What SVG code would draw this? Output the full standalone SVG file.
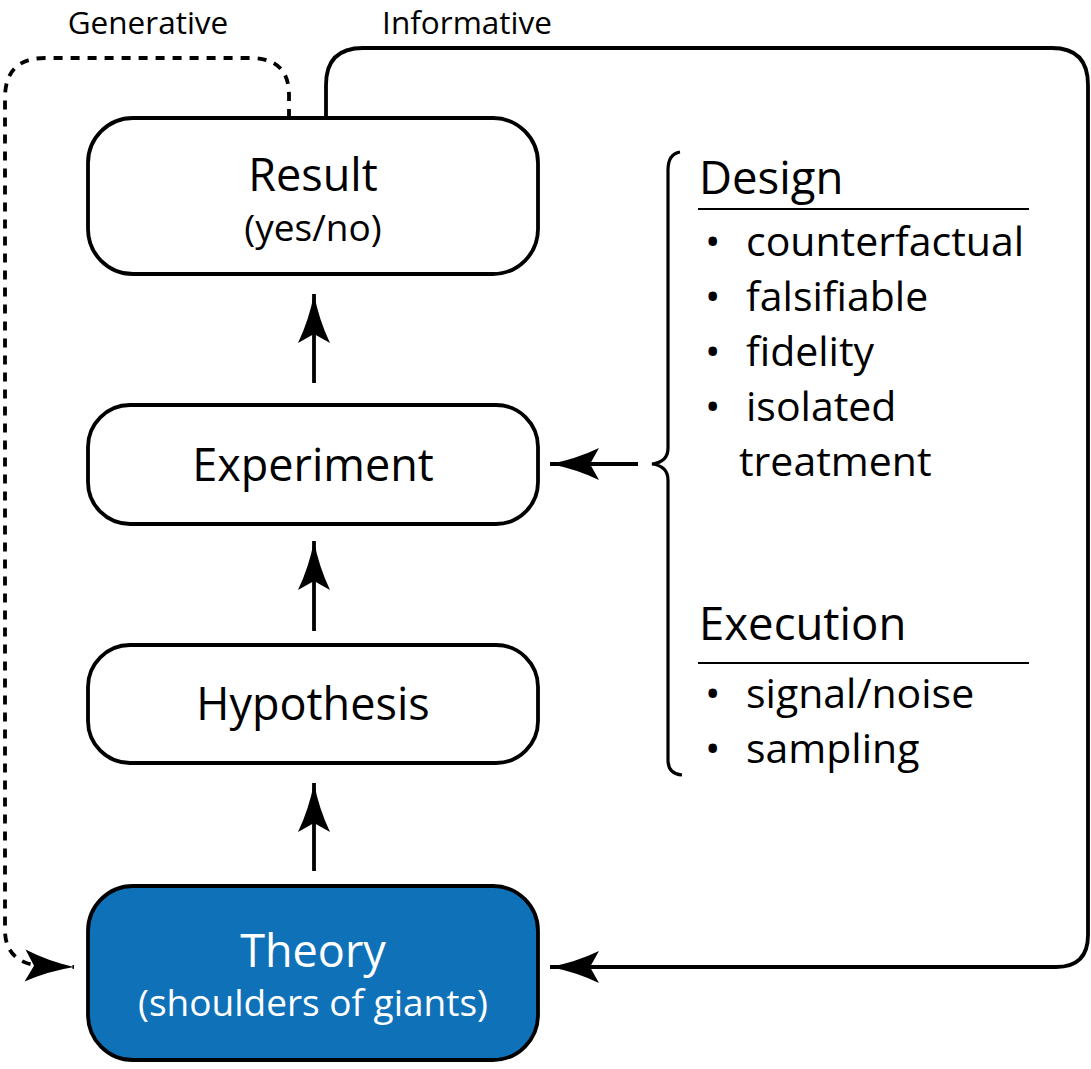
<svg xmlns="http://www.w3.org/2000/svg" width="1091" height="1069" viewBox="0 0 1091 1069">
<style>
.box{fill:#fff;stroke:#000;stroke-width:3.8}
.theory{fill:#0f72b9;stroke:#000;stroke-width:3.8}
.t{font-family:"Open Sans","Noto Sans",sans-serif;fill:#000}
.big{font-size:45px;text-anchor:middle}
.sub{font-size:37px;text-anchor:middle}
.lbl{font-size:31.5px;text-anchor:middle}
.hd{font-size:45.5px}
.li{font-size:41px}
.w{fill:#fff}
.ln{fill:none;stroke:#000;stroke-width:3.8}
.dash{fill:none;stroke:#000;stroke-width:3.8;stroke-dasharray:9,8}
.rule{stroke:#000;stroke-width:2}
</style>
<defs>
<marker id="ah" markerUnits="userSpaceOnUse" markerWidth="60" markerHeight="40" viewBox="-52 -20 56 40" refX="0" refY="0" orient="auto" overflow="visible">
<path d="M0,0 Q-26,-5 -49,-16 L-40,0 L-49,16 Q-26,5 0,0 Z" fill="#000"/>
</marker>
</defs>
<g id="connectors">
<path class="dash" d="M289,118 V95 Q289,58 250,58 H45 Q5,58 5,98 V930 Q5,962 40,966 L74,967" marker-end="url(#ah)"/>
<path class="ln" d="M326,118 V85 Q326,48 363,48 H1052 Q1088,48 1088,85 V935 Q1088,967 1056,967 H550" marker-end="url(#ah)"/>
<path class="ln" d="M314,383 V294" marker-end="url(#ah)"/>
<path class="ln" d="M314,631 V541" marker-end="url(#ah)"/>
<path class="ln" d="M314,871 V783" marker-end="url(#ah)"/>
<path class="ln" d="M638,464 H550" marker-end="url(#ah)"/>
<path class="ln" d="M680,152 Q668,154 668,170 V448 Q668,462 652,464 Q668,466 668,480 V760 Q668,774 682,775" style="stroke-width:3.2"/>
</g>
<g id="labels">
<text class="t lbl" x="148" y="34">Generative</text>
<text class="t lbl" x="467" y="34">Informative</text>
</g>
<g id="result">
<rect class="box" x="88" y="118" width="450" height="156" rx="45"/>
<text class="t big" x="313" y="191">Result</text>
<text class="t sub" x="313" y="241">(yes/no)</text>
</g>
<g id="experiment">
<rect class="box" x="88" y="405" width="450" height="119" rx="42"/>
<text class="t big" x="313" y="481">Experiment</text>
</g>
<g id="hypothesis">
<rect class="box" x="88" y="645" width="450" height="118" rx="42"/>
<text class="t big" x="313" y="720">Hypothesis</text>
</g>
<g id="theory">
<rect class="theory" x="88" y="886" width="450" height="174" rx="45"/>
<text class="t big w" x="313" y="967">Theory</text>
<text class="t sub w" x="313" y="1016">(shoulders of giants)</text>
</g>
<g id="design">
<text class="t hd" x="699" y="194">Design</text>
<line class="rule" x1="698" y1="209" x2="1029" y2="209"/>
<text class="t li" x="705" y="256">•</text>
<text class="t li" x="746" y="256">counterfactual</text>
<text class="t li" x="705" y="311">•</text>
<text class="t li" x="746" y="311">falsifiable</text>
<text class="t li" x="705" y="366">•</text>
<text class="t li" x="746" y="366">fidelity</text>
<text class="t li" x="705" y="421">•</text>
<text class="t li" x="746" y="421">isolated</text>
<text class="t li" x="739" y="476">treatment</text>
</g>
<g id="execution">
<text class="t hd" x="699" y="640">Execution</text>
<line class="rule" x1="698" y1="663" x2="1029" y2="663"/>
<text class="t li" x="705" y="708">•</text>
<text class="t li" x="746" y="708">signal/noise</text>
<text class="t li" x="705" y="763">•</text>
<text class="t li" x="746" y="763">sampling</text>
</g>
</svg>
